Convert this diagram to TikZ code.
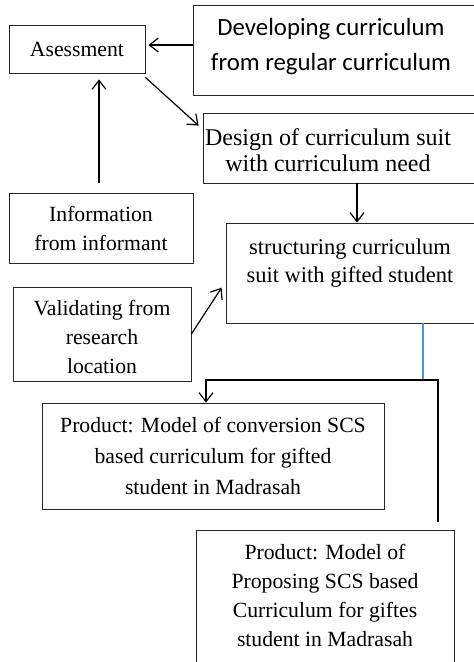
\documentclass[tikz,border=0pt]{standalone}
\usepackage{fontspec}
\setmainfont{Liberation Serif}
\newfontfamily\calibfont{Carlito}
\usetikzlibrary{arrows.meta}
\definecolor{feedblue}{RGB}{85,145,210}

\begin{document}
\begin{tikzpicture}[x=1pt,y=-1pt,
  stage/.style={draw=black!85,line width=0.8pt,inner sep=0pt,align=center,
    font=\fontsize{21.7}{29}\selectfont},
  cuttext/.style={align=center,font=\fontsize{21.7}{29}\selectfont},
  flow/.style={line width=1.2pt,-{Straight Barb[length=9pt,width=14pt]}},
  feed/.style={line width=1.1pt,draw=feedblue}]
\useasboundingbox (0,0) rectangle (474,662);
\node[stage,minimum width=136pt,minimum height=48pt] (asess) at (77,49) {Asessment};
\node[stage,minimum width=302pt,minimum height=90pt,
  label={[cuttext,font=\calibfont\fontsize{24.8}{35}\selectfont,xshift=-13pt,yshift=3pt]center:Developing curriculum\\from regular curriculum}] (develop) at (344,50) {};
\node[stage,minimum width=297pt,minimum height=70pt,
  label={[cuttext,font=\fontsize{24}{26}\selectfont,xshift=-23.5pt,yshift=-2pt]center:Design of curriculum suit\\with curriculum need}] (design) at (351.5,148) {};
\node[stage,minimum width=184pt,minimum height=70pt] (info) at (101,228) {Information\\from informant};
\node[stage,minimum width=274pt,minimum height=100pt,
  label={[cuttext,font=\fontsize{22.5}{28}\selectfont,xshift=-13pt,yshift=9.5pt]center:structuring curriculum\\suit with gifted student}] (struct) at (363,273) {};
\node[stage,minimum width=178pt,minimum height=94pt,
  label={[cuttext,yshift=-3pt]center:Validating from\\research\\location}] (valid) at (102,334) {};
\node[stage,minimum width=342pt,minimum height=106pt,font=\fontsize{21.7}{31}\selectfont] (prod1) at (213,456) {Product: Model of conversion SCS\\based curriculum for gifted\\student in Madrasah};
\node[stage,minimum width=258pt,minimum height=150pt,
  label={[cuttext,yshift=10pt]center:Product: Model of\\Proposing SCS based\\Curriculum for giftes\\student in Madrasah}] (prod2) at (325,605) {};

\coordinate (drop) at (357,0);
\coordinate (infotop) at (99,183);
\coordinate (join) at (423,380);
\coordinate (bend) at (206,380);
\coordinate (riser) at (438,522);

\draw[flow,shorten >=3pt] ([yshift=5pt]develop.west) -- ([yshift=4pt]asess.east);
\draw[flow] ([yshift=-4pt]asess.south east) -- ([shift={(-4pt,-13pt)}]design.north west);
\draw[flow,shorten >=6pt] (infotop) -- (asess.south -| infotop);
\draw[flow] (design.south -| drop) -- (struct.north -| drop);
\draw[flow] (valid.east) -- ([shift={(-4pt,-65pt)}]struct.north west);
\draw[feed] (struct.south -| join) -- (join);
\draw[flow] (riser) -- (riser |- bend) -- (bend) -- (prod1.north -| bend);
\end{tikzpicture}
\end{document}
